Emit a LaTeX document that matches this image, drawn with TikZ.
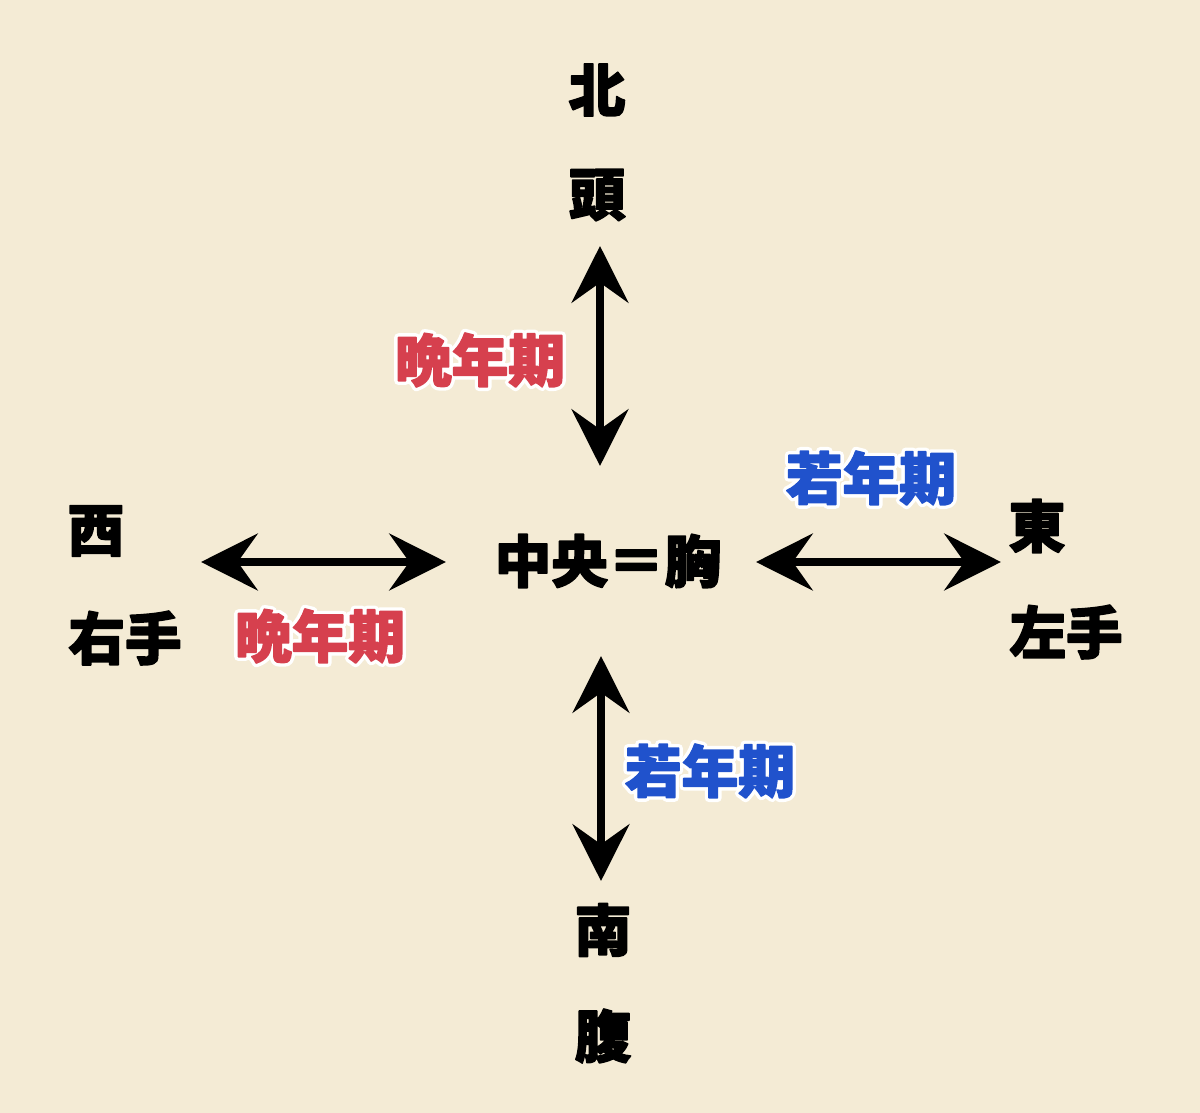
\documentclass[tikz,border=0pt]{standalone}
\usepackage{fontspec}
\newfontfamily\cjk{Noto Sans CJK JP}
\usetikzlibrary{arrows.meta}
\definecolor{paper}{HTML}{F4EBD5}
\definecolor{lred}{HTML}{D6404E}
\definecolor{lblue}{HTML}{2052CC}
\newcommand\heavy[1]{\special{pdf:literal direct 2 Tr 0.9 w 1 j}#1\special{pdf:literal direct 0 Tr}}
\newcommand\outl[1]{\special{pdf:literal direct 2 Tr 5 w 1 j}#1\special{pdf:literal direct 0 Tr}}
\tikzset{
  lbl/.style={font=\cjk\bfseries\fontsize{34}{34}\selectfont, inner sep=0pt, text=black},
  dbl/.style={line width=4.6pt, black,
    {Stealth[length=34pt,width=34pt,inset=12pt]}-{Stealth[length=34pt,width=34pt,inset=12pt]}}
}
\newcommand\olabel[4]{%
  \node[lbl,text=white] (#1w) at (#2) {\outl{#4}};
  \node[lbl,text=#3] (#1) at (#2) {\heavy{#4}};}
\begin{document}
\begin{tikzpicture}[x=0.6pt,y=-0.6pt]
\fill[paper] (0,0) rectangle (1200,1113);
\useasboundingbox (0,0) rectangle (1200,1113);
% labels
\node[lbl] (kita) at (597,90) {\heavy{北}};
\node[lbl] (atama) at (597,195) {\heavy{頭}};
\node[lbl] (nishi) at (96,531) {\heavy{西}};
\node[lbl] (migite) at (125,638) {\heavy{右手}};
\node[lbl] (center) at (608,561) {\heavy{中央＝胸}};
\node[lbl] (higashi) at (1037,526) {\heavy{東}};
\node[lbl] (hidarite) at (1066,632) {\heavy{左手}};
\node[lbl] (minami) at (603,930) {\heavy{南}};
\node[lbl] (hara) at (603,1036) {\heavy{腹}};
\olabel{bannenN}{480,360}{lred}{晩年期}
\olabel{bannenW}{320,636}{lred}{晩年期}
\olabel{jakunenE}{871,478}{lblue}{若年期}
\olabel{jakunenS}{710,771}{lblue}{若年期}
% arrow ends
\coordinate (nTop) at (600,246);
\coordinate (nBot) at (600,466);
\coordinate (wL) at (201,562);
\coordinate (wR) at (446,562);
\coordinate (eL) at (756,562);
\coordinate (eR) at (1001,562);
\coordinate (sTop) at (601,656);
\coordinate (sBot) at (601,881);
\draw[dbl] (nTop) -- (nBot);
\draw[dbl] (wL) -- (wR);
\draw[dbl] (eL) -- (eR);
\draw[dbl] (sTop) -- (sBot);
\end{tikzpicture}
\end{document}
